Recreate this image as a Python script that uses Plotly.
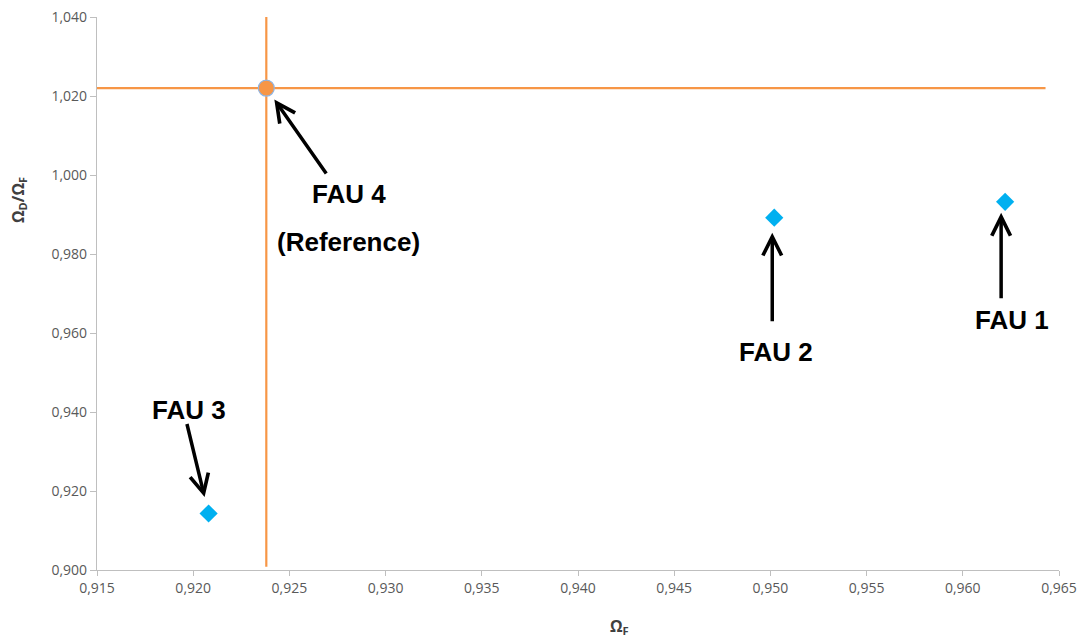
import plotly.graph_objects as go

# ---- data ----
fau_labels = ["FAU 1", "FAU 2", "FAU 3"]
omega_f = [0.9622, 0.9502, 0.9208]
ratio = [0.9932, 0.9892, 0.9143]

ref_label = "FAU 4"
ref_x = 0.9238
ref_y = 1.0220

ref_vline_y = [0.9008, 1.0400]
ref_hline_x = [0.9150, 0.9643]

x_ticks = [0.915, 0.920, 0.925, 0.930, 0.935, 0.940, 0.945, 0.950, 0.955, 0.960, 0.965]
y_ticks = [0.900, 0.920, 0.940, 0.960, 0.980, 1.000, 1.020, 1.040]

ORANGE = "#F79646"
BLUE = "#00B0F0"
AXIS = "#BFBFBF"
TICKTXT = "#595959"

fig = go.Figure()

fig.add_trace(go.Scatter(x=[ref_x, ref_x], y=ref_vline_y, mode="lines",
                         line=dict(color=ORANGE, width=2.2), hoverinfo="skip",
                         showlegend=False))
fig.add_trace(go.Scatter(x=ref_hline_x, y=[ref_y, ref_y], mode="lines",
                         line=dict(color=ORANGE, width=2.2), hoverinfo="skip",
                         showlegend=False))
fig.add_trace(go.Scatter(x=omega_f, y=ratio, mode="markers", text=fau_labels,
                         marker=dict(symbol="diamond", size=14, color=BLUE,
                                     line=dict(width=0)),
                         showlegend=False))
fig.add_trace(go.Scatter(x=[ref_x], y=[ref_y], mode="markers", text=[ref_label],
                         marker=dict(symbol="circle", size=16, color=ORANGE,
                                     line=dict(width=1.2, color="#8EB4E3")),
                         showlegend=False))

LBL = dict(family="Liberation Sans, Arial, sans-serif", size=26, color="black")

def arrow(x, y, ax, ay, standoff, xs=0):
    fig.add_annotation(x=x, y=y, ax=ax, ay=ay, xref="x", yref="y",
                       showarrow=True, arrowhead=5, arrowwidth=3.5,
                       arrowsize=1.05, arrowcolor="black", standoff=standoff,
                       xshift=xs, text="")

def label(x, y, text, xs, ys):
    fig.add_annotation(x=x, y=y, xref="x", yref="y", text="<b>%s</b>" % text,
                       showarrow=False, xshift=xs, yshift=ys, font=LBL,
                       xanchor="center", yanchor="middle")

# FAU 1
arrow(omega_f[0], ratio[0], 0, 98, 11, xs=-4)
label(omega_f[0], ratio[0], fau_labels[0], 7, -118)
# FAU 2
arrow(omega_f[1], ratio[1], 0, 105, 15, xs=-2)
label(omega_f[1], ratio[1], fau_labels[1], 2, -134)
# FAU 3
arrow(omega_f[2], ratio[2], -22, -91, 17)
label(omega_f[2], ratio[2], fau_labels[2], -20, 104)
# FAU 4
arrow(ref_x, ref_y, 61, 87, 14)
label(ref_x, ref_y, ref_label, 83, -106)
label(ref_x, ref_y, "(Reference)", 82, -154)

PLOT_H = 553
TITLE = dict(family="Open Sans, sans-serif", size=16, color="#404040")
fig.add_annotation(xref="paper", yref="paper", x=0, y=(570 - 200) / PLOT_H,
                   xshift=-79, text="<b>Ω<sub>D</sub>/Ω<sub>F</sub></b>",
                   textangle=-90, showarrow=False, font=TITLE,
                   xanchor="center", yanchor="middle")
fig.add_annotation(xref="paper", yref="paper", x=(619 - 97) / 962, y=0,
                   yshift=-56, text="<b>Ω<sub>F</sub></b>",
                   showarrow=False, font=TITLE,
                   xanchor="center", yanchor="middle")

tickfont = dict(family="Open Sans, sans-serif", size=14, color=TICKTXT)
fig.update_xaxes(range=[0.915, 0.965], tickvals=x_ticks, tickformat=".3f",
                 showgrid=False, zeroline=False, showline=True, linecolor=AXIS,
                 linewidth=1.3, ticks="outside", ticklen=5, tickcolor=AXIS,
                 tickwidth=1.3, tickfont=tickfont, ticklabeloverflow="allow")
fig.update_yaxes(range=[0.900, 1.040], tickvals=y_ticks, tickformat=".3f",
                 showgrid=False, zeroline=False, showline=True, linecolor=AXIS,
                 linewidth=1.3, ticks="outside", ticklen=6, tickcolor=AXIS,
                 tickwidth=1.3, tickfont=tickfont, ticklabeloverflow="allow")

# the page's body margin is removed below, so the figure fills the window
fig.update_layout(width=1078, height=637, separators=", ",
                  margin=dict(l=97, r=19, t=17, b=67, autoexpand=False),
                  plot_bgcolor="white", paper_bgcolor="white")

fig.write_html("out.html",
               config={"displayModeBar": False},
               post_script="document.body.style.margin='0';"
                           "document.documentElement.style.overflow='hidden';"
                           "document.body.style.overflow='hidden';")
